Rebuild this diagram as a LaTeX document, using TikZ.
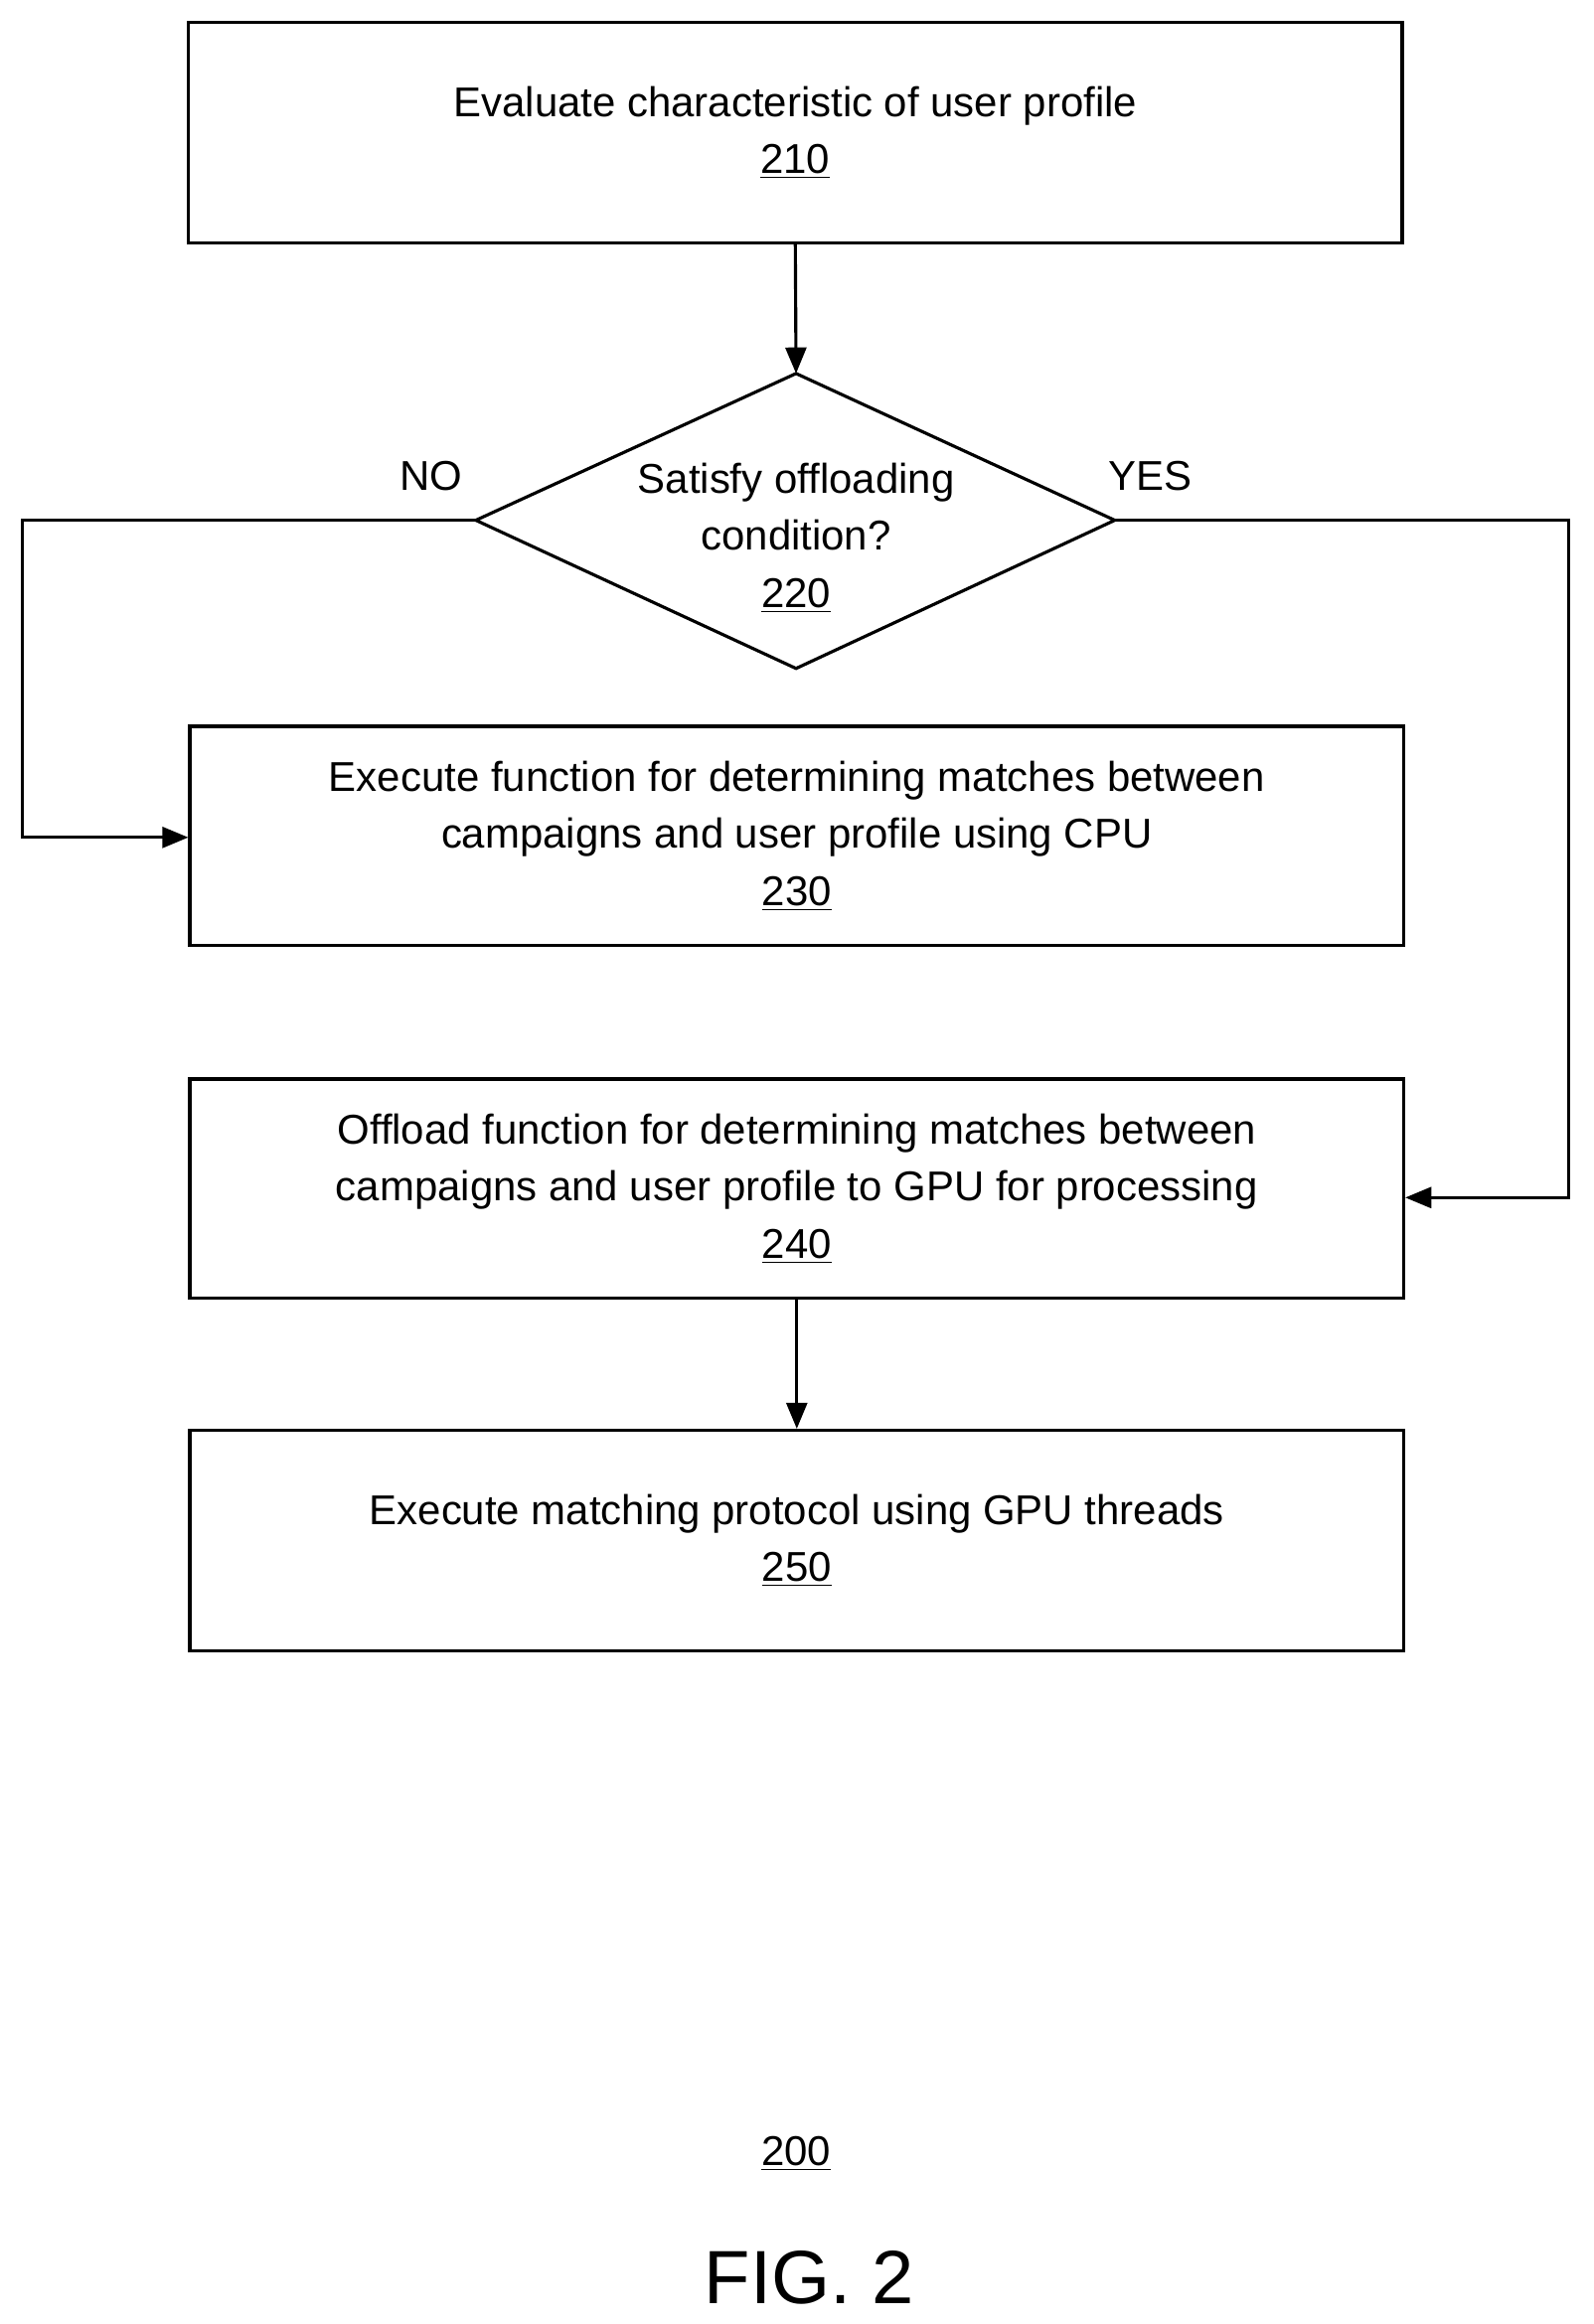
\documentclass[tikz,border=0pt]{standalone}
\usepackage{fontspec}
\setmainfont{Liberation Sans}
\usetikzlibrary{arrows.meta}
\begin{document}
\begin{tikzpicture}[x=0.02cm,y=-0.02cm,
  box/.style={draw,line width=1.2pt,align=center,font=\fontsize{16}{22}\selectfont},
  txt/.style={font=\fontsize{16}{22}\selectfont,align=center},
  arr/.style={line width=1.2pt,-{Triangle[length=10pt,width=8pt]}}]
\useasboundingbox (0,0) rectangle (1075,1568);
\node[box,minimum width=819\pgflinewidth,minimum width=16.38cm,minimum height=2.98cm] (b210) at (536.5,89.5) {Evaluate characteristic of user profile\\\underline{210}};
\coordinate (dt) at (537,252); \coordinate (dl) at (321,351); \coordinate (db) at (537,451); \coordinate (dr) at (752,351);
\draw[line width=1.2pt] (dt) -- (dr) -- (db) -- (dl) -- cycle;
\node[txt] (d220) at (537,363) {Satisfy offloading\\condition?\\\underline{220}};
\node[box,minimum width=16.38cm,minimum height=2.96cm] (b230) at (537.5,564) {Execute function for determining matches between\\campaigns and user profile using CPU\\\underline{230}};
\node[box,minimum width=16.38cm,minimum height=2.96cm] (b240) at (537.5,802) {Offload function for determining matches between\\campaigns and user profile to GPU for processing\\\underline{240}};
\node[box,minimum width=16.38cm,minimum height=2.98cm] (b250) at (537.5,1039.5) {Execute matching protocol using GPU threads\\\underline{250}};
\node[txt] (no) at (291,321) {NO};
\node[txt] (yes) at (776,321) {YES};
\coordinate (nl) at (15,351); \coordinate (nb) at (15,565);
\coordinate (yr) at (1058,351); \coordinate (yb) at (1058,808);
\draw[arr] (b210.south) -- (dt);
\draw[arr] (dl) -- (nl) -- (nb) -- (b230.west |- nb);
\draw[arr] (dr) -- (yr) -- (yb) -- (b240.east |- yb);
\draw[arr] (b240.south) -- (b250.north);
\node[txt] (l200) at (537,1453) {\underline{200}};
\node[font=\fontsize{29}{34}\selectfont] (fig) at (546,1537) {FIG. 2};
\end{tikzpicture}
\end{document}
